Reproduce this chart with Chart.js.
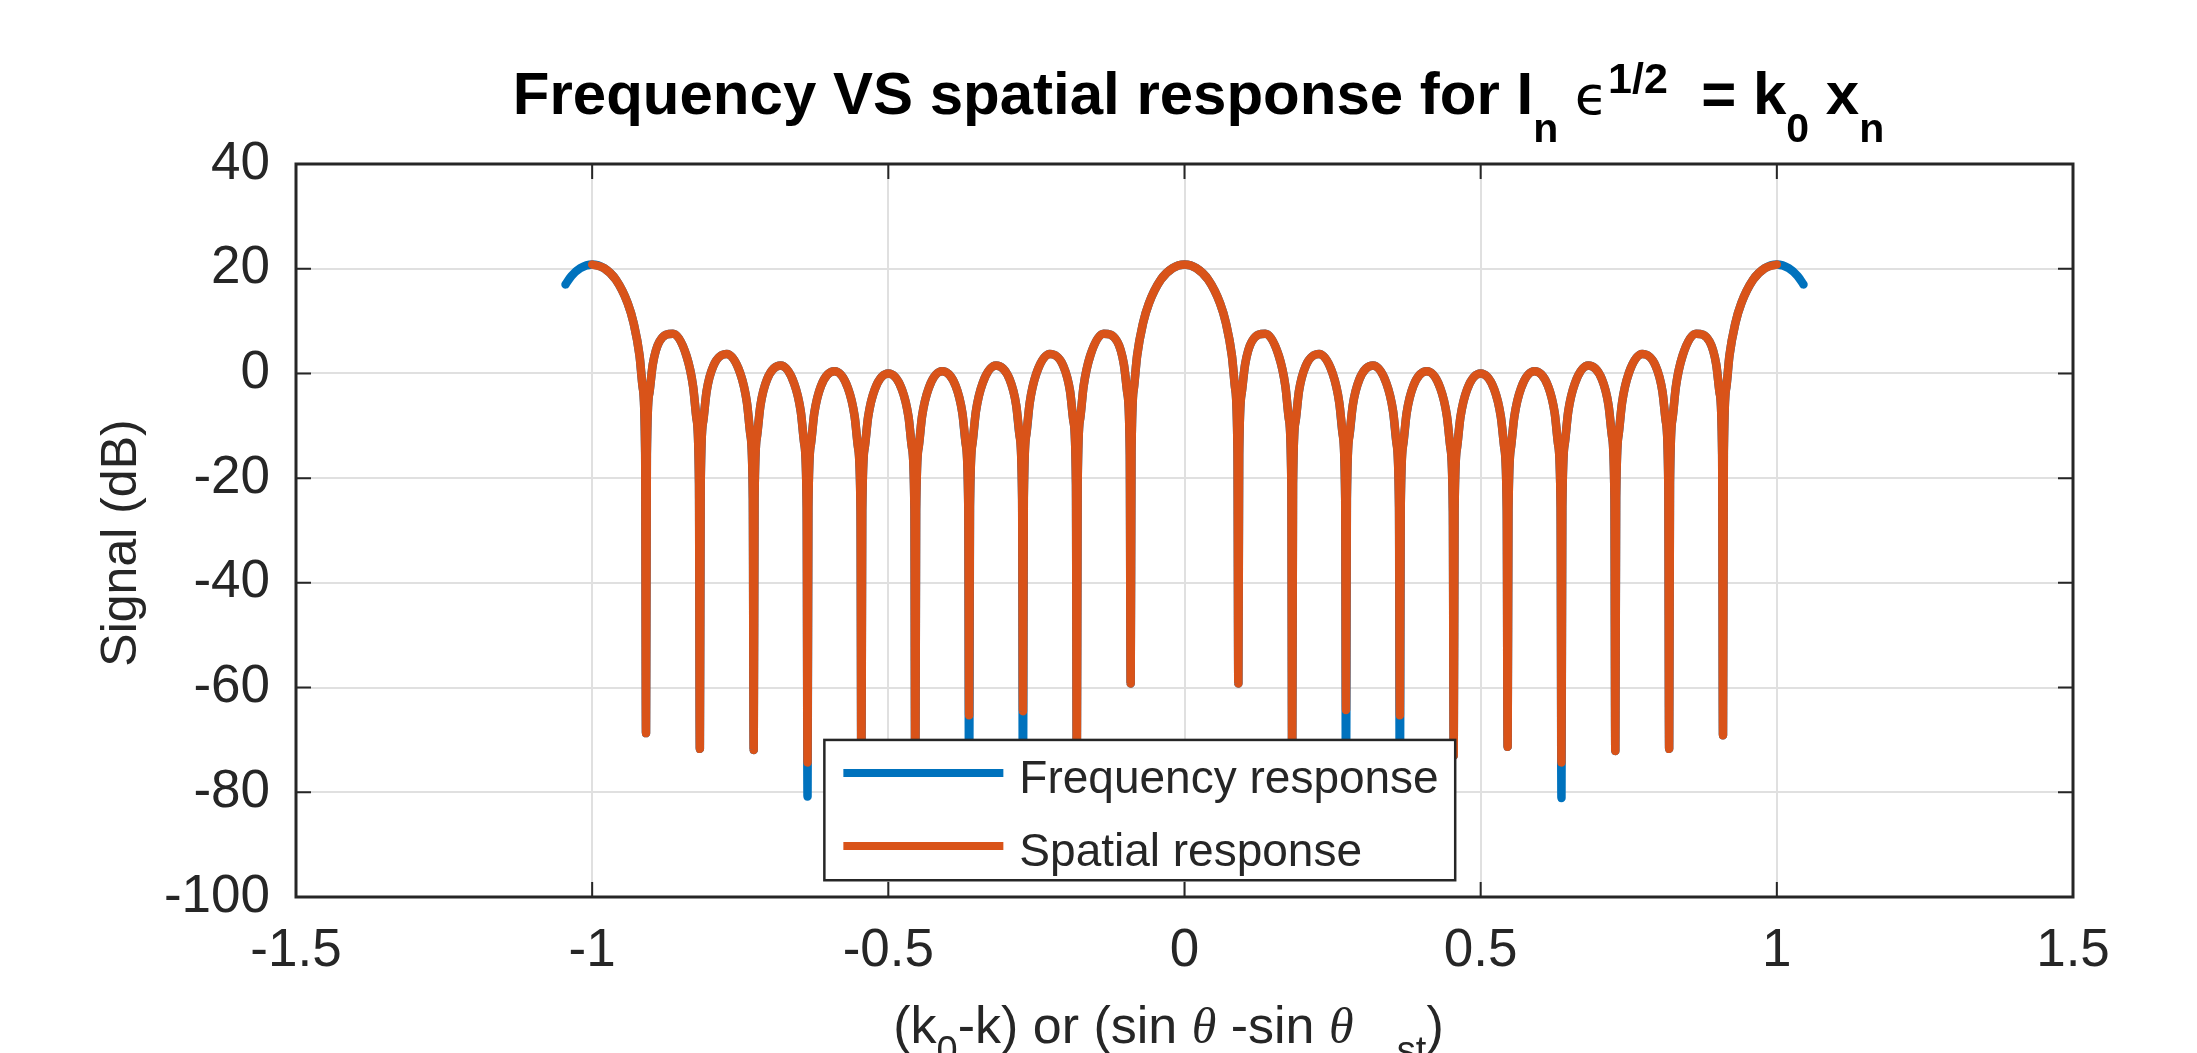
<!DOCTYPE html>
<html>
<head>
<meta charset="utf-8">
<title>Frequency VS spatial response</title>
<script src="https://cdn.jsdelivr.net/npm/chart.js@4.4.1/dist/chart.umd.min.js"></script>
<style>
  html, body { margin: 0; padding: 0; background: #fff; }
  #wrap { width: 2197px; height: 1053px; position: relative; }
</style>
</head>
<body>
<div id="wrap"><canvas id="afChart"></canvas></div>
<script>
// axis ticks
const xTicks = [-1.5, -1, -0.5, 0, 0.5, 1, 1.5];
const yTicks = [-100, -80, -60, -40, -20, 0, 20, 40];

// spatial response (orange)
const spatialX = [
  -1.0, -0.98, -0.96, -0.94, -0.93, -0.92, -0.9148, -0.9105,
  -0.9091,
  -0.9077, -0.9034, -0.8977, -0.8864, -0.8636, -0.8409, -0.8296, -0.8239, -0.8196,
  -0.8182,
  -0.8168, -0.8125, -0.8068, -0.7955, -0.7727, -0.75, -0.7387, -0.733, -0.7287,
  -0.7273,
  -0.7259, -0.7216, -0.7159, -0.7046, -0.6818, -0.6591, -0.6478, -0.6421, -0.6378,
  -0.6364,
  -0.635, -0.6307, -0.625, -0.6137, -0.5909, -0.5682, -0.5569, -0.5512, -0.5469,
  -0.5455,
  -0.5441, -0.5398, -0.5341, -0.5228, -0.5, -0.4772, -0.4659, -0.4602, -0.4559,
  -0.4545,
  -0.4531, -0.4488, -0.4431, -0.4318, -0.4091, -0.3863, -0.375, -0.3693, -0.365,
  -0.3636,
  -0.3622, -0.3579, -0.3522, -0.3409, -0.3182, -0.2954, -0.2841, -0.2784, -0.2741,
  -0.2727,
  -0.2713, -0.267, -0.2613, -0.25, -0.2273, -0.2045, -0.1932, -0.1875, -0.1832,
  -0.1818,
  -0.1804, -0.1761, -0.1704, -0.1591, -0.1364, -0.1136, -0.1023, -0.0966, -0.0923,
  -0.0909,
  -0.0895, -0.0852, -0.08, -0.07, -0.06, -0.04, -0.02, 0, 0.02, 0.04, 0.06, 0.07, 0.08, 0.0852, 0.0895,
  0.0909,
  0.0923, 0.0966, 0.1023, 0.1136, 0.1364, 0.1591, 0.1704, 0.1761, 0.1804,
  0.1818,
  0.1832, 0.1875, 0.1932, 0.2045, 0.2273, 0.25, 0.2613, 0.267, 0.2713,
  0.2727,
  0.2741, 0.2784, 0.2841, 0.2954, 0.3182, 0.3409, 0.3522, 0.3579, 0.3622,
  0.3636,
  0.365, 0.3693, 0.375, 0.3863, 0.4091, 0.4318, 0.4431, 0.4488, 0.4531,
  0.4545,
  0.4559, 0.4602, 0.4659, 0.4772, 0.5, 0.5228, 0.5341, 0.5398, 0.5441,
  0.5455,
  0.5469, 0.5512, 0.5569, 0.5682, 0.5909, 0.6137, 0.625, 0.6307, 0.635,
  0.6364,
  0.6378, 0.6421, 0.6478, 0.6591, 0.6818, 0.7046, 0.7159, 0.7216, 0.7259,
  0.7273,
  0.7287, 0.733, 0.7387, 0.75, 0.7727, 0.7955, 0.8068, 0.8125, 0.8168,
  0.8182,
  0.8196, 0.8239, 0.8296, 0.8409, 0.8636, 0.8864, 0.8977, 0.9034, 0.9077,
  0.9091,
  0.9105, 0.9148, 0.92, 0.93, 0.94, 0.96, 0.98, 1.0
];
const spatialY = [
  20.8, 20.1, 17.9, 13.4, 9.6, 3.4, -2.6, -15.1,
  -68.7,
  -15.4, -3.7, 1.7, 6.1, 7.6, 3.4, -2.5, -8.6, -20.9,
  -71.7,
  -21.0, -9.1, -3.4, 1.4, 3.7, 0.0, -5.6, -11.6, -23.8,
  -71.9,
  -23.9, -11.9, -6.1, -1.1, 1.5, -1.9, -7.3, -13.3, -25.5,
  -74.3,
  -25.5, -13.5, -7.6, -2.4, 0.4, -2.8, -8.2, -14.1, -26.2,
  -79,
  -26.2, -14.1, -8.3, -3.0, 0.0, -3.0, -8.3, -14.1, -26.2,
  -84,
  -26.2, -14.1, -8.2, -2.8, 0.4, -2.4, -7.6, -13.5, -25.5,
  -65.3,
  -25.5, -13.3, -7.3, -1.9, 1.5, -1.1, -6.1, -11.9, -23.9,
  -64.5,
  -23.8, -11.6, -5.6, 0.0, 3.7, 1.4, -3.4, -9.1, -21.0,
  -77,
  -20.9, -8.6, -2.5, 3.4, 7.6, 6.1, 1.7, -3.7, -15.4,
  -59.2,
  -15.1, -2.6, 3.4, 9.6, 13.4, 17.9, 20.1, 20.8, 20.1, 17.9, 13.4, 9.6, 3.4, -2.6, -15.1,
  -59.2,
  -15.4, -3.7, 1.7, 6.1, 7.6, 3.4, -2.5, -8.6, -20.9,
  -77,
  -21.0, -9.1, -3.4, 1.4, 3.7, 0.0, -5.6, -11.6, -23.8,
  -64.3,
  -23.9, -11.9, -6.1, -1.1, 1.5, -1.9, -7.3, -13.3, -25.5,
  -65.3,
  -25.5, -13.5, -7.6, -2.4, 0.4, -2.8, -8.2, -14.1, -26.2,
  -73,
  -26.2, -14.1, -8.3, -3.0, 0.0, -3.0, -8.3, -14.1, -26.2,
  -71.3,
  -26.2, -14.1, -8.2, -2.8, 0.4, -2.4, -7.6, -13.5, -25.5,
  -74.3,
  -25.5, -13.3, -7.3, -1.9, 1.5, -1.1, -6.1, -11.9, -23.9,
  -72.1,
  -23.8, -11.6, -5.6, 0.0, 3.7, 1.4, -3.4, -9.1, -21.0,
  -71.7,
  -20.9, -8.6, -2.5, 3.4, 7.6, 6.1, 1.7, -3.7, -15.4,
  -69.1,
  -15.1, -2.6, 3.4, 9.6, 13.4, 17.9, 20.1, 20.8
];

// frequency response (blue): same lobes, runs a bit past +-1 and dips deeper at some nulls
const freqLeftX = [-1.045, -1.035, -1.02];
const freqLeftY = [17.0, 18.6, 20.1];
const freqRightX = [1.02, 1.035, 1.045];
const freqRightY = [20.1, 18.6, 17.0];
const freqNullX = [-0.6364, -0.3636, -0.2727, 0.2727, 0.3636, 0.6364];
const freqNullY = [-80.8, -88, -86, -86, -88, -81.1];

const BLUE = '#0072BD';
const ORANGE = '#D95319';
const INK = '#262626';
const FONT = '"Liberation Sans", Arial, Helvetica, sans-serif';

const spatialPts = spatialX.map((x, i) => ({ x, y: spatialY[i] }));
const freqPts = [
  ...freqLeftX.map((x, i) => ({ x, y: freqLeftY[i] })),
  ...spatialX.map((x, i) => {
    const k = freqNullX.indexOf(x);
    return { x, y: k >= 0 ? freqNullY[k] : spatialY[i] };
  }),
  ...freqRightX.map((x, i) => ({ x, y: freqRightY[i] }))
];

function drawRich(ctx, parts, cx, y) {
  let total = 0;
  parts.forEach(p => { ctx.font = p.font; p.w = ctx.measureText(p.text).width; total += p.w; });
  let x = cx - total / 2;
  parts.forEach(p => {
    ctx.font = p.font;
    ctx.fillText(p.text, x, y + (p.dy || 0));
    x += p.w;
  });
}

// MATLAB style box, inward ticks, legend inside axes, title and labels
const matlabAxes = {
  id: 'matlabAxes',
  afterDatasetsDraw(chart) {
    const { ctx, chartArea: a, scales: { x, y } } = chart;
    ctx.save();
    ctx.strokeStyle = INK;
    ctx.lineWidth = 2;
    const tl = 15;
    xTicks.forEach(v => {
      const px = x.getPixelForValue(v);
      ctx.beginPath();
      ctx.moveTo(px, a.bottom); ctx.lineTo(px, a.bottom - tl);
      ctx.moveTo(px, a.top); ctx.lineTo(px, a.top + tl);
      ctx.stroke();
    });
    yTicks.forEach(v => {
      const py = y.getPixelForValue(v);
      ctx.beginPath();
      ctx.moveTo(a.left, py); ctx.lineTo(a.left + tl, py);
      ctx.moveTo(a.right, py); ctx.lineTo(a.right - tl, py);
      ctx.stroke();
    });
    ctx.lineWidth = 3;
    ctx.strokeRect(a.left, a.top, a.right - a.left, a.bottom - a.top);

    // legend
    const lx0 = x.getPixelForValue(-0.608), lx1 = x.getPixelForValue(0.457);
    const ly0 = y.getPixelForValue(-70), ly1 = y.getPixelForValue(-96.8);
    ctx.fillStyle = '#fff';
    ctx.fillRect(lx0, ly0, lx1 - lx0, ly1 - ly0);
    ctx.lineWidth = 2.5;
    ctx.strokeStyle = INK;
    ctx.strokeRect(lx0, ly0, lx1 - lx0, ly1 - ly0);
    const rows = [
      { label: 'Frequency response', color: BLUE, dy: 33 },
      { label: 'Spatial response', color: ORANGE, dy: 106 }
    ];
    rows.forEach(r => {
      const ry = ly0 + r.dy;
      ctx.strokeStyle = r.color;
      ctx.lineWidth = 8;
      ctx.beginPath();
      ctx.moveTo(lx0 + 19, ry); ctx.lineTo(lx0 + 179, ry);
      ctx.stroke();
      ctx.fillStyle = INK;
      ctx.font = `46px ${FONT}`;
      ctx.textBaseline = 'alphabetic';
      ctx.textAlign = 'left';
      ctx.fillText(r.label, lx0 + 195, ry + 20);
    });
    ctx.restore();
  },
  afterDraw(chart) {
    const { ctx, chartArea: a } = chart;
    const cx = (a.left + a.right) / 2;
    ctx.save();
    ctx.textBaseline = 'alphabetic';
    ctx.textAlign = 'left';

    // title
    ctx.fillStyle = '#000';
    const B = s => `bold ${s}px ${FONT}`;
    drawRich(ctx, [
      { text: 'Frequency VS spatial response for I', font: B(60) },
      { text: 'n', font: B(41), dy: 28 },
      { text: ' ', font: B(60) },
      { text: 'ϵ', font: '54px "DejaVu Sans", sans-serif' },
      { text: '1/2', font: B(43), dy: -21 },
      { text: '  = k', font: B(60) },
      { text: '0', font: B(41), dy: 28 },
      { text: ' x', font: B(60) },
      { text: 'n', font: B(41), dy: 28 }
    ], cx + 14, 114);

    // x label
    ctx.fillStyle = INK;
    const R = s => `${s}px ${FONT}`;
    const TH = 'italic 50px "Liberation Serif", "DejaVu Serif", serif';
    drawRich(ctx, [
      { text: '(k', font: R(52) },
      { text: '0', font: R(38), dy: 20 },
      { text: '-k) or (sin ', font: R(52) },
      { text: 'θ', font: TH },
      { text: ' -sin ', font: R(52) },
      { text: 'θ', font: TH },
      { text: '   ', font: R(52) },
      { text: 'st', font: R(38), dy: 20 },
      { text: ')', font: R(52) }
    ], cx - 16, 1043);

    // y label
    ctx.translate(136, 543);
    ctx.rotate(-Math.PI / 2);
    ctx.textAlign = 'center';
    ctx.font = R(50);
    ctx.fillText('Signal (dB)', 0, 0);
    ctx.restore();
  }
};

const gridOpts = { color: '#e0e0e0', lineWidth: 2, drawTicks: false };

new Chart(document.getElementById('afChart'), {
  type: 'scatter',
  data: {
    datasets: [
      {
        label: 'Spatial response',
        data: spatialPts,
        showLine: true,
        borderColor: ORANGE,
        backgroundColor: ORANGE,
        borderWidth: 8.5,
        pointRadius: 0,
        cubicInterpolationMode: 'monotone',
        borderCapStyle: 'round',
        borderJoinStyle: 'round',
        order: 1
      },
      {
        label: 'Frequency response',
        data: freqPts,
        showLine: true,
        borderColor: BLUE,
        backgroundColor: BLUE,
        borderWidth: 8.5,
        pointRadius: 0,
        cubicInterpolationMode: 'monotone',
        borderCapStyle: 'round',
        borderJoinStyle: 'round',
        order: 2
      }
    ]
  },
  options: {
    responsive: true,
    maintainAspectRatio: false,
    animation: false,
    layout: { padding: { top: 164, right: 124, left: 0, bottom: 0 } },
    plugins: {
      legend: { display: false },
      tooltip: { enabled: false },
      title: { display: false }
    },
    scales: {
      x: {
        type: 'linear',
        min: -1.5,
        max: 1.5,
        afterBuildTicks: axis => { axis.ticks = xTicks.map(v => ({ value: v })); },
        afterFit: s => { s.height = 156; },
        grid: gridOpts,
        border: { display: false },
        ticks: {
          autoSkip: false,
          maxRotation: 0,
          padding: 23,
          color: INK,
          font: { family: FONT, size: 53 },
          callback: v => String(v)
        }
      },
      y: {
        type: 'linear',
        min: -100,
        max: 40,
        afterBuildTicks: axis => { axis.ticks = yTicks.map(v => ({ value: v })); },
        afterFit: s => { s.width = 296; },
        grid: gridOpts,
        border: { display: false },
        ticks: {
          autoSkip: false,
          padding: 26,
          color: INK,
          font: { family: FONT, size: 53 },
          callback: v => String(v)
        }
      }
    }
  },
  plugins: [matlabAxes]
});
</script>
</body>
</html>
